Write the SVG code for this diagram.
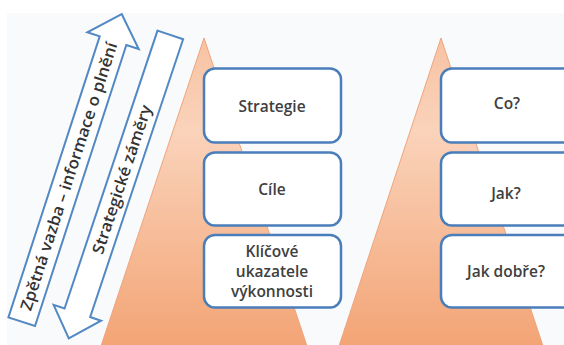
<svg xmlns="http://www.w3.org/2000/svg" width="564" height="345" viewBox="0 0 564 345">
  <defs>
    <linearGradient id="tri" x1="0" y1="0" x2="0" y2="1">
      <stop offset="0" stop-color="#f7c2a2"/>
      <stop offset="0.3" stop-color="#fad3bb"/>
      <stop offset="1" stop-color="#f3a475"/>
    </linearGradient>
    <style>
      .tri { fill: url(#tri); stroke: #efa47c; stroke-width: 1; }
      .box { fill: #ffffff; stroke: #4a7ebb; stroke-width: 2.5; }
      .arrow { fill: #ffffff; stroke: #5288c4; stroke-width: 2; stroke-linejoin: miter; }
      .lbl { font-family: "Open Sans", "Noto Sans", "DejaVu Sans", sans-serif; font-size: 15.5px; font-weight: 600; fill: #404040; text-anchor: middle; }
      .alb { font-family: "Open Sans", "Noto Sans", "DejaVu Sans", sans-serif; font-size: 16px; font-weight: 600; fill: #333333; text-anchor: middle; }
    </style>
  </defs>

  <rect x="0" y="0" width="564" height="345" fill="#ffffff"/>
  <rect x="7" y="13" width="557" height="332" fill="#f9fafb"/>

  <g id="pyramid-left">
    <polygon class="tri" points="204,38 307,346 101,346"/>
  </g>
  <g id="pyramid-right">
    <polygon class="tri" points="441,38 543,346 339,346"/>
  </g>

  <g id="arrow-feedback" transform="translate(71.7,167.85) rotate(18)">
    <polygon class="arrow" points="0,-161.75 27,-133.75 14,-133.75 14,161.75 -14,161.75 -14,-133.75 -27,-133.75"/>
    <text class="alb" transform="rotate(-90)" x="-9" y="5.5" textLength="281" lengthAdjust="spacingAndGlyphs">Zpětná vazba – informace o plnění</text>
  </g>

  <g id="arrow-intent" transform="translate(119.55,186.65) rotate(18.5)">
    <polygon class="arrow" points="-13.5,-160 13.5,-160 13.5,133 25,133 0,160 -25,133 -13.5,133"/>
    <text class="alb" transform="rotate(-90)" x="7.6" y="5.5" textLength="156" lengthAdjust="spacingAndGlyphs">Strategické záměry</text>
  </g>

  <g id="strategie">
    <rect class="box" x="204" y="68.5" width="137" height="74" rx="11"/>
    <text class="lbl" x="272" y="112">Strategie</text>
  </g>
  <g id="cile">
    <rect class="box" x="204" y="152.5" width="137" height="73" rx="11"/>
    <text class="lbl" x="272" y="195">Cíle</text>
  </g>
  <g id="klicove-ukazatele">
    <rect class="box" x="204" y="235" width="137" height="72.5" rx="11"/>
    <text class="lbl" x="272" y="257">Klíčové</text>
    <text class="lbl" x="272" y="277">ukazatele</text>
    <text class="lbl" x="272" y="297">výkonnosti</text>
  </g>

  <g id="co">
    <rect class="box" x="441" y="68.5" width="137" height="74" rx="11"/>
    <text class="lbl" x="507" y="109">Co?</text>
  </g>
  <g id="jak">
    <rect class="box" x="441" y="152.5" width="137" height="73" rx="11"/>
    <text class="lbl" x="506" y="198.5">Jak?</text>
  </g>
  <g id="jak-dobre">
    <rect class="box" x="441" y="235" width="137" height="72.5" rx="11"/>
    <text class="lbl" x="506" y="277">Jak dobře?</text>
  </g>

  <g id="connectors"/>
</svg>
